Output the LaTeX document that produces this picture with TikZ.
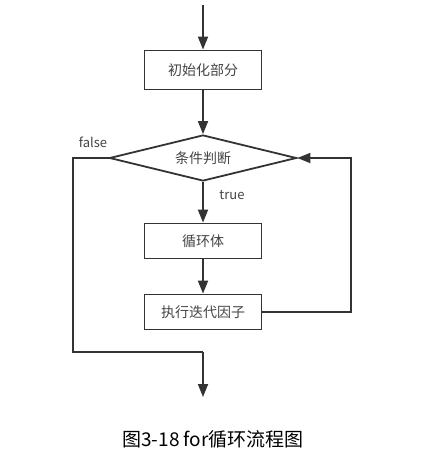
\documentclass[tikz,border=0pt]{standalone}
\usepackage{fontspec}
\setmainfont{Noto Sans CJK SC}
\usepackage{xcolor}
\usetikzlibrary{shapes.geometric,arrows.meta}
\definecolor{linegray}{HTML}{333333}
\definecolor{textgray}{HTML}{444444}

\begin{document}
\begin{tikzpicture}[x=1pt,y=-1pt,
  line width=1.8pt,
  flow/.style={draw=linegray,-{Triangle[length=13pt,width=10pt]}},
  procbox/.style={draw=linegray,line width=1.8pt,minimum width=117pt,minimum height=35pt,
    inner sep=0pt,text=textgray,font=\fontsize{14pt}{16pt}\selectfont},
  decision/.style={draw=linegray,line width=1.8pt,shape=diamond,aspect=4.07,inner sep=0pt,
    minimum width=187pt,minimum height=46pt,text=textgray,font=\fontsize{14pt}{16pt}\selectfont},
  tag/.style={text=textgray,font=\fontsize{13pt}{15pt}\selectfont}]
 \useasboundingbox (0,0) rectangle (421,458);
 \coordinate (start) at (203,5);
 \node[procbox,minimum height=39pt] (init) at (203,70) {初始化部分};
 \node[decision] (cond) at (203,158) {条件判断};
 \node[procbox] (body) at (203,241) {循环体};
 \node[procbox] (iter) at (203,312) {执行迭代因子};
 \coordinate (exit) at (203,352);
 \coordinate (finish) at (203,397);
 \draw[flow] (start) -- (init);
 \draw[flow] (init) -- (cond);
 \draw[flow] (cond) -- (body);
 \draw[flow] (body) -- (iter);
 \draw[flow] (iter.east) -- (351,312) -- (351,158) -- (cond.east);
 \draw[draw=linegray] (cond.west) -- (73,158) -- (73,352) -- (exit);
 \draw[flow] (exit) -- (finish);
 \node[tag] (falsetag) at (93,142) {false};
 \node[tag] (truetag) at (232,195) {true};
 \node[font=\fontsize{19pt}{21pt}\selectfont] (caption) at (213,439) {图3-18 for循环流程图};
\end{tikzpicture}
\end{document}
